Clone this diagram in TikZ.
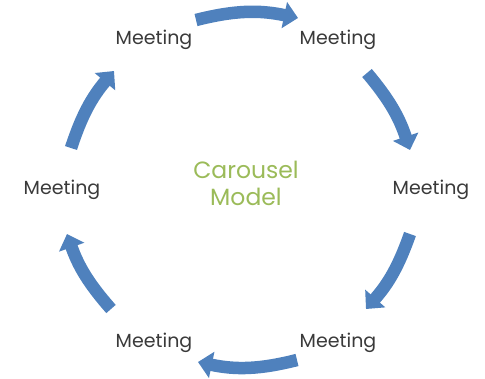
\documentclass[tikz,border=0pt]{standalone}
\usepackage{fontspec}
\setmainfont{Poppins}
\usetikzlibrary{arrows.meta}
\definecolor{arrowblue}{HTML}{4F81BD}
\definecolor{titlegreen}{HTML}{9BBB59}
\definecolor{labelgray}{HTML}{3A3A3A}
\begin{document}
\begin{tikzpicture}[x=1pt,y=-1pt,
  meet/.style={text=labelgray,font=\fontsize{19}{22}\selectfont,inner sep=0pt},
  carrow/.style={draw=arrowblue,line width=12.5pt,-{Triangle[width=26pt,length=14pt]}}]
\useasboundingbox (0,0) rectangle (485,378);
% labels
\node[meet] (m1) at (154,40) {Meeting};
\node[meet] (m2) at (338,40) {Meeting};
\node[meet] (m3) at (431,190) {Meeting};
\node[meet] (m4) at (338,343) {Meeting};
\node[meet] (m5) at (154,343) {Meeting};
\node[meet] (m6) at (62,190) {Meeting};
\node[text=titlegreen,font=\fontsize{23.5}{27}\selectfont,align=center,inner sep=0pt] (title) at (246,183) {Carousel\\Model};
% arrow end points
\coordinate (a1s) at (196,20);  \coordinate (a1e) at (298,18);
\coordinate (a2s) at (367,73);  \coordinate (a2e) at (410,150);
\coordinate (a3s) at (410,234); \coordinate (a3e) at (366,309);
\coordinate (a4s) at (297,360); \coordinate (a4e) at (198,362);
\coordinate (a5s) at (111,309); \coordinate (a5e) at (67,234);
\coordinate (a6s) at (71,148);  \coordinate (a6e) at (114,71);
% arrows
\draw[carrow] (a1s) to[bend left=13] (a1e);
\draw[carrow] (a2s) to[bend left=11] (a2e);
\draw[carrow] (a3s) to[bend left=11] (a3e);
\draw[carrow] (a4s) to[bend left=13] (a4e);
\draw[carrow] (a5s) to[bend left=11] (a5e);
\draw[carrow] (a6s) to[bend left=11] (a6e);
\end{tikzpicture}
\end{document}
